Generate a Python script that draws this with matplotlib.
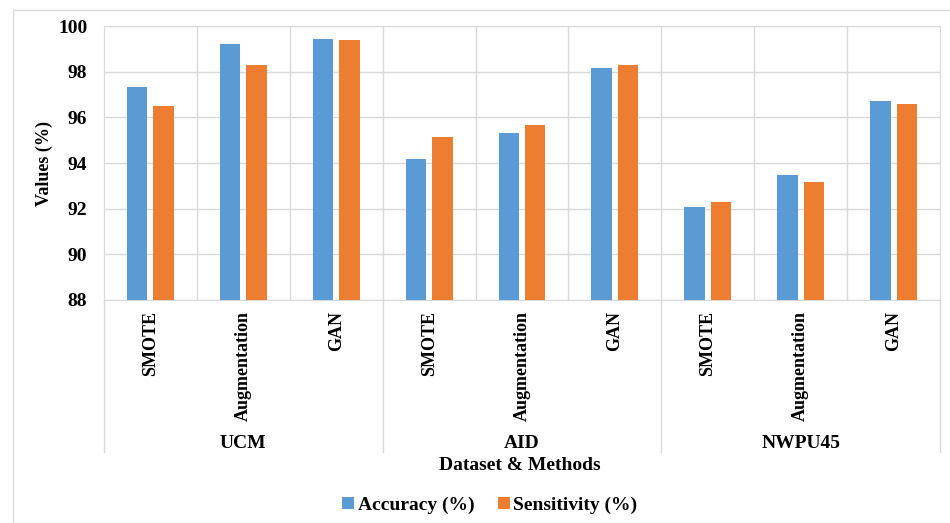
import matplotlib
matplotlib.use("Agg")
import matplotlib.pyplot as plt
import matplotlib.transforms as mtransforms
from matplotlib.patches import Rectangle
import numpy as np

datasets = ["UCM", "AID", "NWPU45"]
methods = ["SMOTE", "Augmentation", "GAN"]
accuracy = [97.34, 99.23, 99.45, 94.19, 95.33, 98.18, 92.07, 93.46, 96.72]
sensitivity = [96.51, 98.28, 99.39, 95.14, 95.67, 98.28, 92.29, 93.15, 96.57]
yticks = [88, 90, 92, 94, 96, 98, 100]

blue = "#5B9BD5"
orange = "#ED7D31"
grid_c = "#D9D9D9"

plt.rcParams["font.family"] = ["Liberation Serif", "DejaVu Serif"]
plt.rcParams["font.weight"] = "bold"

W, H = 950, 523
fig = plt.figure(figsize=(W / 100, H / 100), dpi=100)

# outer frame like the source chart box
fig.patches.append(Rectangle((13 / W, 0), 1.2, 1 - 10 / H, transform=fig.transFigure,
                             fill=False, edgecolor=grid_c, lw=1))

ax = fig.add_axes([104 / W, 1 - 300 / H, 836 / W, 274 / H])
n = len(accuracy)
x = np.arange(n) + 0.5
ax.bar(x - 0.142, accuracy, width=0.22, color=blue, label="Accuracy (%)", zorder=3)
ax.bar(x + 0.142, sensitivity, width=0.22, color=orange, label="Sensitivity (%)", zorder=3)

ax.set_xlim(0, n)
ax.set_ylim(88, 100)
ax.set_yticks(yticks)
ax.set_yticklabels([str(v) for v in yticks], fontsize=14, fontweight="bold")
ax.grid(axis="y", color=grid_c, lw=1, zorder=0)
for b in range(1, n):
    ax.axvline(b, color=grid_c, lw=1, zorder=0)
for s in ax.spines.values():
    s.set_color(grid_c)
ax.tick_params(axis="both", length=0)
ax.tick_params(axis="y", pad=12)

ax.set_xticks(x)
ax.set_xticklabels(methods * len(datasets), rotation=90, fontsize=13,
                   fontweight="bold", va="top")
ax.tick_params(axis="x", pad=8)

trans = mtransforms.blended_transform_factory(ax.transData, ax.transAxes)
y_sep = (300 - 452) / 274
for g in range(len(datasets) + 1):
    ax.plot([g * 3, g * 3], [0, y_sep], color=grid_c, lw=1, transform=trans, clip_on=False)
for g, name in enumerate(datasets):
    ax.text(g * 3 + 1.5, (300 - 443) / 274, name, transform=trans, ha="center", va="center",
            fontsize=14, fontweight="bold")

ax.set_ylabel("Values (%)", fontsize=13, fontweight="bold")
ax.yaxis.set_label_coords((53 - 104) / 836, (300 - 163) / 274)
fig.text(520 / W, 1 - 466 / H, "Dataset & Methods", ha="center", va="center",
         fontsize=14, fontweight="bold")

fig.legend(loc="center", bbox_to_anchor=(490 / W, 1 - 505 / H), ncol=2, frameon=False,
           fontsize=14, handlelength=0.6, handleheight=0.6, handletextpad=0.2,
           columnspacing=1.2)

fig.savefig("out.png", dpi=100)
